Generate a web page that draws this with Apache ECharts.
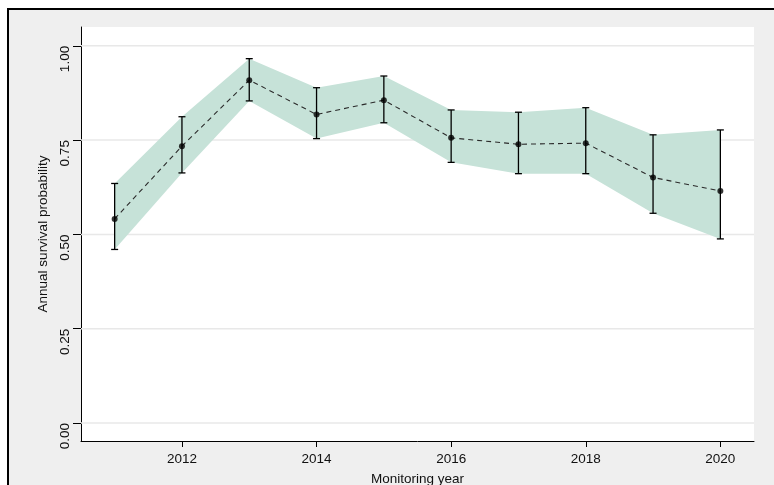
<!DOCTYPE html>
<html>
<head>
<meta charset="utf-8">
<script src="https://cdn.jsdelivr.net/npm/echarts@6/dist/echarts.min.js"></script>
<style>
  html, body { margin: 0; padding: 0; background: #fff; width: 774px; height: 485px; overflow: hidden; }
  #frame { position: absolute; left: 7px; top: 8px; width: 800px; height: 500px; background: #efefef;
           border-left: 2px solid #000; border-top: 2px solid #000; box-sizing: border-box; }
  #chart { position: absolute; left: 0; top: 0; width: 774px; height: 485px; }
</style>
</head>
<body>
<div id="frame"></div>
<div id="chart"></div>
<script>
// Annual survival estimates with 95% confidence limits
const years    = [2011, 2012, 2013, 2014, 2015, 2016, 2017, 2018, 2019, 2020];
const survival = [0.541, 0.734, 0.909, 0.818, 0.856, 0.756, 0.739, 0.742, 0.651, 0.615];
const upperCI  = [0.635, 0.812, 0.966, 0.889, 0.920, 0.830, 0.824, 0.836, 0.764, 0.777];
const lowerCI  = [0.460, 0.663, 0.854, 0.754, 0.796, 0.691, 0.661, 0.661, 0.556, 0.488];

const xTicks = [2012, 2014, 2016, 2018, 2020];
const yTicks = [0, 0.25, 0.5, 0.75, 1.0];

const X_MIN = 2010.5, X_MAX = 2020.5;
const FONT = 'Liberation Sans, Arial, sans-serif';
const TEXT = '#111';

const chart = echarts.init(document.getElementById('chart'), null, { renderer: 'canvas' });

const option = {
  backgroundColor: 'transparent',
  animation: false,
  grid: { left: 81, right: 20, top: 27, bottom: 44, show: true, backgroundColor: '#fff', borderWidth: 0,
          outerBoundsMode: 'none', containLabel: false },
  xAxis: {
    type: 'value', min: X_MIN, max: X_MAX,
    name: 'Monitoring year', nameLocation: 'middle', nameGap: 31,
    nameTextStyle: { fontFamily: FONT, fontSize: 13.5, color: TEXT },
    axisLine: { show: true, onZero: false, lineStyle: { color: '#000', width: 1 } },
    axisTick: { show: true, length: 6, customValues: xTicks, lineStyle: { color: '#000', width: 1 } },
    axisLabel: { customValues: xTicks, margin: 11, fontFamily: FONT, fontSize: 13.5, color: TEXT,
                 formatter: v => String(v) },
    splitLine: { show: false }
  },
  yAxis: {
    type: 'value', min: -0.048, max: 1.05,
    name: 'Annual survival probability', nameLocation: 'middle', nameGap: 25, nameRotate: 90,
    nameTextStyle: { fontFamily: FONT, fontSize: 13.5, color: TEXT },
    axisLine: { show: true, onZero: false, lineStyle: { color: '#000', width: 1 } },
    axisTick: { show: true, length: 8, customValues: yTicks, lineStyle: { color: '#000', width: 1 } },
    axisLabel: { customValues: yTicks, rotate: 90, align: 'right', verticalAlign: 'bottom', margin: 9,
                 fontFamily: FONT, fontSize: 13.5, color: TEXT, formatter: v => v.toFixed(2) },
    splitLine: { show: false }
  },
  series: [
    {
      // horizontal reference lines at the labelled probabilities
      type: 'custom', z: 1, silent: true,
      data: yTicks.map(v => [X_MIN, v]),
      renderItem: (params, api) => {
        const v = api.value(1);
        const a = api.coord([X_MIN, v]);
        const b = api.coord([X_MAX, v]);
        return { type: 'line', shape: { x1: a[0], y1: a[1], x2: b[0], y2: b[1] },
                 style: { stroke: '#e8e8e8', lineWidth: 1.5 } };
      }
    },
    {
      // shaded confidence band
      type: 'custom', z: 2, silent: true,
      data: years.map((y, i) => [y, lowerCI[i], upperCI[i]]),
      renderItem: (params, api) => {
        if (params.dataIndex !== 0) return null;
        const pts = [];
        for (let i = 0; i < years.length; i++) pts.push(api.coord([years[i], upperCI[i]]));
        for (let i = years.length - 1; i >= 0; i--) pts.push(api.coord([years[i], lowerCI[i]]));
        return { type: 'polygon', shape: { points: pts }, style: { fill: '#c6e2d8', stroke: 'none' } };
      }
    },
    {
      // dashed trend through the point estimates
      type: 'line', z: 3,
      data: years.map((y, i) => [y, survival[i]]),
      symbol: 'none',
      lineStyle: { color: '#2a2a2a', width: 1.1, type: [5, 4] }
    },
    {
      // capped error bars
      type: 'custom', z: 4, silent: true,
      data: years.map((y, i) => [y, lowerCI[i], upperCI[i]]),
      renderItem: (params, api) => {
        const lo = api.coord([api.value(0), api.value(1)]);
        const hi = api.coord([api.value(0), api.value(2)]);
        const cap = 3.5;
        const style = { stroke: '#000', lineWidth: 1.3 };
        return {
          type: 'group',
          children: [
            { type: 'line', shape: { x1: lo[0], y1: lo[1], x2: hi[0], y2: hi[1] }, style },
            { type: 'line', shape: { x1: hi[0] - cap, y1: hi[1], x2: hi[0] + cap, y2: hi[1] }, style },
            { type: 'line', shape: { x1: lo[0] - cap, y1: lo[1], x2: lo[0] + cap, y2: lo[1] }, style }
          ]
        };
      }
    },
    {
      // point estimates
      type: 'scatter', z: 5,
      data: years.map((y, i) => [y, survival[i]]),
      symbol: 'circle', symbolSize: 6,
      itemStyle: { color: '#000' }
    }
  ]
};

chart.setOption(option);
</script>
</body>
</html>
